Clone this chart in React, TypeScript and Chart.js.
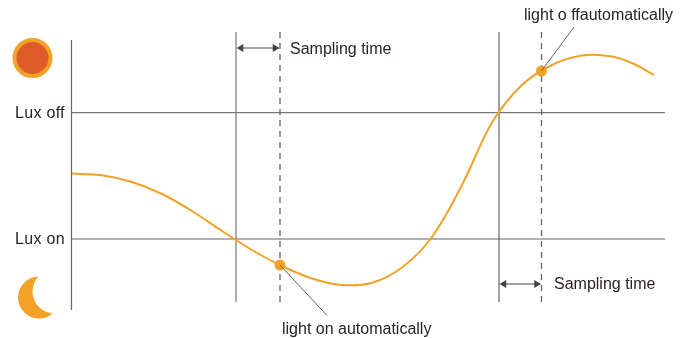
import React, { useEffect, useRef } from "react";
import { Chart, registerables } from "chart.js";

Chart.register(...registerables);

const curveX = [72, 102, 132, 162, 192, 222, 252, 282, 312, 342, 372, 402, 432, 462, 492, 522, 552, 582, 612, 633, 654];
const curveLux = [173.5, 175.3, 182, 194, 211, 231, 250, 266, 278.5, 285, 282.8, 267.5, 237, 185, 122.5, 85, 65, 55.5, 56.5, 63.5, 75];

const luxOff = 112.7;
const luxOn = 239;
const firstCross = 236;
const firstTrigger = 280;
const secondCross = 499;
const secondTrigger = 541.5;

const labelTexts = ["Lux off", "Lux on", "Sampling time", "Sampling time", "light on automatically", "light o ffautomatically"];
const labelX = [15, 15, 290, 554, 282, 524];
const labelY = [113.5, 239.5, 50, 285, 330, 16];

const ORANGE = "#f2a227";
const pts = (xs: number[], ys: number[]) => xs.map((x, i) => ({ x, y: ys[i] }));
const line = (xs: number[], ys: number[], color: string, width: number, dash: number[] = []) => ({
  data: pts(xs, ys),
  borderColor: color,
  borderWidth: width,
  borderDash: dash,
  pointRadius: 0,
  showLine: true,
  tension: 0,
  clip: false,
});
const arrow = (xs: number[], ys: number[]) => ({
  data: pts(xs, ys),
  borderColor: "#444",
  borderWidth: 1.2,
  showLine: true,
  pointStyle: "triangle",
  pointRotation: [-90, 90],
  pointRadius: 4.5,
  pointBackgroundColor: "#444",
  pointBorderColor: "#444",
  pointBorderWidth: 0,
  clip: false,
});
const disc = (x: number, y: number, r: number, fill: string, border = fill, bw = 0) => ({
  data: [{ x, y }],
  showLine: false,
  pointStyle: "circle",
  pointRadius: r,
  pointBackgroundColor: fill,
  pointBorderColor: border,
  pointBorderWidth: bw,
  clip: false,
});

const textPlugin = {
  id: "textLabels",
  afterDatasetsDraw(chart: any) {
    const { ctx, scales } = chart;
    ctx.save();
    ctx.font = '16px "Liberation Sans", Arial, sans-serif';
    ctx.fillStyle = "#2b2424";
    ctx.textBaseline = "middle";
    ctx.textAlign = "left";
    labelTexts.forEach((t, i) => {
      (ctx as any).letterSpacing = i < 2 ? "0.3px" : "0px";
      ctx.fillText(t, scales.x.getPixelForValue(labelX[i]), scales.y.getPixelForValue(labelY[i]));
    });
    ctx.restore();
  },
};

export default function App() {
  const ref = useRef<HTMLCanvasElement>(null);
  useEffect(() => {
    const paintOrder = [
      disc(32.5, 58, 18, "#de5a28", ORANGE, 4),
      disc(39, 297.5, 21, ORANGE),
      disc(54.5, 291.5, 22, "#ffffff"),
      line([71.5, 71.5], [40, 310], "#666", 1.2),
      line([71.5, 665], [luxOff, luxOff], "#777", 1.2),
      line([71.5, 665], [luxOn, luxOn], "#666", 1.2),
      line([firstCross, firstCross], [32, 302], "#777", 1.2),
      line([secondCross, secondCross], [32, 302], "#666", 1.2),
      line([firstTrigger, firstTrigger], [32, 302], "#666", 1.3, [6, 5]),
      line([secondTrigger, secondTrigger], [32, 302], "#666", 1.3, [6, 5]),
      {
        data: pts(curveX, curveLux),
        borderColor: ORANGE,
        borderWidth: 2,
        pointRadius: 0,
        showLine: true,
        tension: 0.33,
        clip: false,
      },
      disc(firstTrigger, 265, 5.5, ORANGE),
      disc(secondTrigger, 71, 5.5, ORANGE),
      line([firstTrigger, 327], [265, 315.5], "#555", 0.9),
      line([secondTrigger, 574], [71, 27], "#555", 0.9),
      arrow([firstCross + 5, firstTrigger - 5], [48, 48]),
      arrow([secondCross + 5, secondTrigger - 5], [284, 284]),
    ];
    const chart = new Chart(ref.current!, {
      type: "scatter",
      data: { datasets: paintOrder.slice().reverse() as any },
      options: {
        animation: false,
        responsive: false,
        layout: { padding: 0, autoPadding: false },
        plugins: { legend: { display: false }, tooltip: { enabled: false } },
        scales: {
          x: { type: "linear", min: 0, max: 686, display: false },
          y: { type: "linear", min: 0, max: 338, reverse: true, display: false },
        },
      },
      plugins: [textPlugin],
    } as any);
    return () => chart.destroy();
  }, []);
  return (
    <canvas
      ref={ref}
      width={686}
      height={338}
      style={{ position: "absolute", left: 0, top: 0, width: 686, height: 338, background: "#fff" }}
    />
  );
}
